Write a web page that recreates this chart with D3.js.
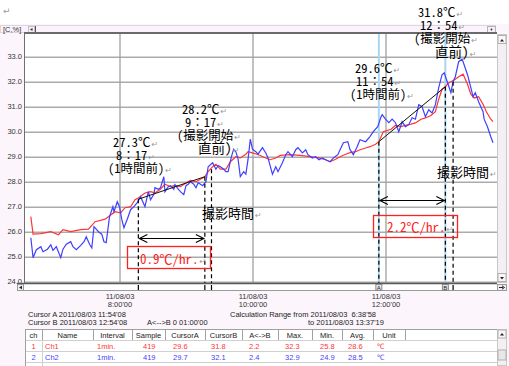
<!DOCTYPE html>
<html><head><meta charset="utf-8">
<script src="https://cdn.jsdelivr.net/npm/d3@7/dist/d3.min.js"></script>
<style>
html,body{margin:0;padding:0;background:#fff;}
svg{display:block;}
</style></head><body>
<svg id="chart" width="509" height="366"></svg>
<script>
// ---------------- data ----------------
const ch1Minutes = [400,402,409,418,425,429,436,445,452,458,467,476,481,485,490,494,497,503,508,512,517,521,526,530,535,540,544,549,553,557,560,564,567,571,576,580,585,589,594,596,600,604,607,612,616,621,625,634,643,652,660,666,670,675,679,684,688,693,697,702,706,711,714,718,725,729,734,738,743,747,752,756,761,765,768,771,774,777,781,783,786,790,794,797,800,804,808,811,815,817];
const ch1Values = [26.6,25.9,25.92,26.0,25.88,26.08,26.0,26.08,26.1,26.4,26.5,26.8,26.75,26.96,27.0,27.28,27.35,27.55,27.6,27.55,27.7,27.9,27.8,27.85,27.8,27.95,28.05,28.0,28.1,28.2,28.4,28.6,28.7,28.5,28.5,28.8,29.0,28.95,29.1,29.2,29.15,29.1,29.05,28.95,28.88,28.95,29.05,29.08,29.05,29.0,28.95,28.88,28.8,28.9,29.0,29.1,29.16,29.2,29.28,29.35,29.4,29.5,29.6,30.0,30.1,30.25,30.2,30.25,30.3,30.35,30.5,30.55,30.65,30.8,31.3,31.7,31.8,31.95,32.05,32.1,32.2,32.3,31.9,31.5,31.35,31.4,31.1,30.8,30.5,30.4];
const ch2Minutes = [400,402,405,409,411,415,418,420,423,427,429,432,436,438,441,445,448,450,453,455,457,459,461,464,466,468,471,474,475,478,480,482,484,487,490,493,496,499,502,503,506,508,511,512,515,517,520,521,524,526,529,530,533,535,538,540,542,544,547,549,551,555,558,560,564,567,569,571,574,576,578,581,583,585,587,589,592,594,596,598,600,603,605,609,612,614,618,621,623,627,630,632,636,639,641,645,648,650,654,657,660,663,666,670,673,677,679,682,686,688,691,694,697,702,706,709,713,716,717,720,723,726,729,732,735,738,741,744,747,750,753,756,759,762,765,768,771,773,776,779,781,783,786,789,790,794,797,799,801,804,808,809,812,815,817];
const ch2Values = [25.76,24.96,25.28,25.4,25.2,25.3,25.48,25.25,25.4,24.96,25.3,25.5,25.6,25.4,25.28,25.45,25.6,25.8,25.5,25.35,26.2,26.1,26.0,25.9,25.6,25.56,26.6,27.0,26.8,27.2,27.0,26.5,26.16,26.5,26.88,27.0,27.16,27.4,27.1,27.0,27.6,27.28,27.5,27.76,27.7,27.76,28.2,27.6,27.8,27.84,27.7,27.88,27.7,27.6,27.48,27.84,27.9,28.0,27.9,27.76,27.96,27.84,28.0,28.6,28.76,28.5,28.65,28.6,28.5,28.4,28.4,29.0,29.3,29.2,28.9,28.2,28.4,28.3,28.9,29.7,29.3,29.2,29.1,29.36,29.15,28.95,28.3,28.6,28.4,28.76,29.08,29.2,29.0,29.28,29.36,29.15,29.28,29.08,28.95,29.0,28.88,28.95,28.88,28.8,28.95,29.08,29.28,29.56,29.6,29.28,29.08,29.36,29.68,29.6,29.8,30.0,30.2,30.6,30.68,30.5,30.36,30.5,30.36,30.0,30.4,30.2,30.28,30.56,30.5,31.08,31.0,30.6,30.88,30.75,31.08,31.76,32.28,32.36,31.96,31.56,32.0,32.2,32.8,32.9,32.8,32.28,31.76,31.4,31.56,31.2,30.8,30.5,30.2,29.8,29.56];
const yTicks = [24,25,26,27,28,29,30,31,32,33];
const xTickMinutes = [480,600,720];
const xTickDates = ["11/08/03","11/08/03","11/08/03"];
const xTickTimes = ["8:00'00","10:00'00","12:00'00"];
// annotation points: [minute, value]
const trendLeft = [[497,27.3],[557,28.2]];
const trendRight = [[714,29.6],[774,31.8]];
const cursorMinutes = [714,774];
const cursorNames = ["A","B"];
const extraDashLeft = [563,28.5];
const extraDashRight = [781,32.0];
const tableHeaders = ["ch","Name","Interval","Sample","CursorA","CursorB","A<->B","Max.","Min.","Avg.","Unit"];
const tableRow1 = ["1","Ch1","1min.","419","29.6","31.8","2.2","32.3","25.8","28.6","\u2103"];
const tableRow2 = ["2","Ch2","1min.","419","29.7","32.1","2.4","32.9","24.9","28.5","\u2103"];

// ---------------- layout ----------------
const W=509,H=366;
const plot={left:25,right:497,top:34,bottom:283};
const svg=d3.select("#chart");
const toDate=m=>new Date(2011,7,3,Math.floor(m/60),m%60,0);
const x=d3.scaleTime().domain([toDate(480),toDate(720)]).range([119.5,385.5]);
const y=d3.scaleLinear().domain([24,33]).range([281.7,56.7]);
const smallFont='"Liberation Sans",Arial,sans-serif';
const annFont='"Noto Sans Mono CJK JP","Noto Sans CJK JP",sans-serif';
const RED="#ff3535", BLUE="#3f3fff";

svg.append("rect").attr("width",W).attr("height",H).attr("fill","#fff");
svg.append("rect").attr("x",0).attr("y",24).attr("width",W).attr("height",H-24).attr("fill","#fcf6fc");
// top bar
svg.append("rect").attr("x",0.5).attr("y",25.5).attr("width",495).attr("height",7).attr("fill","#fbf3fb").attr("stroke","#e2d2e2");
svg.append("text").attr("x",3).attr("y",32).attr("font-family",smallFont).attr("font-size",7.5).attr("fill","#333").text("[C,%]");
svg.append("rect").attr("x",28.5).attr("y",26.5).attr("width",6).attr("height",6).attr("fill","#f4f0f4").attr("stroke","#c8c0c8");
svg.append("path").attr("d","M30,29.5 L32.5,28 L32.5,31 Z").attr("fill","#333");
svg.append("line").attr("x1",35.5).attr("x2",35.5).attr("y1",26).attr("y2",33).attr("stroke","#555");
svg.append("rect").attr("x",487.5).attr("y",26.5).attr("width",8).attr("height",6).attr("fill","#f4f0f4").attr("stroke","#b8b0b8");
svg.append("circle").attr("cx",491.5).attr("cy",29.5).attr("r",0.9).attr("fill","#333");

// plot background
svg.append("rect").attr("x",plot.left).attr("y",plot.top).attr("width",plot.right-plot.left).attr("height",plot.bottom-plot.top).attr("fill","#fff");
svg.append("defs").append("clipPath").attr("id","clip").append("rect")
  .attr("x",plot.left).attr("y",plot.top).attr("width",plot.right-plot.left).attr("height",plot.bottom-plot.top);

// y axis + horizontal grid
const yAxis=d3.axisLeft(y).tickValues(yTicks).tickFormat(d3.format(".1f"))
  .tickSizeInner(-(plot.right-plot.left)).tickSizeOuter(0).tickPadding(3);
const gy=svg.append("g").attr("transform",`translate(${plot.left},0)`).call(yAxis);
gy.select(".domain").remove();
gy.selectAll("line").attr("stroke","#ababab").attr("stroke-width",1.5);
gy.selectAll("text").attr("font-family",smallFont).attr("font-size",7.5).attr("fill","#333").attr("dy","0.25em");

// x axis + vertical grid
const xAxis=d3.axisBottom(x).tickValues(xTickMinutes.map(toDate))
  .tickSizeInner(-(plot.bottom-plot.top)).tickSizeOuter(0).tickFormat((d,i)=>xTickDates[i]);
const gx=svg.append("g").attr("transform",`translate(0,${plot.bottom})`).call(xAxis);
gx.select(".domain").remove();
gx.selectAll("line").attr("stroke","#a0a0a0").attr("stroke-width",1.3);
gx.selectAll("text").attr("font-family",smallFont).attr("font-size",7.5).attr("fill","#333")
  .attr("y",16).attr("dy",0)
  .each(function(d,i){ d3.select(this).append("tspan").attr("x",0).attr("dy",8).text(xTickTimes[i]); });

// plot border
svg.append("line").attr("x1",plot.left-0.5).attr("x2",plot.left-0.5).attr("y1",plot.top).attr("y2",plot.bottom).attr("stroke","#707070");
svg.append("line").attr("x1",plot.left-1).attr("x2",plot.right).attr("y1",33).attr("y2",33).attr("stroke","#6a6a6a").attr("stroke-width",2);

// cursor lines (light blue)
svg.append("g").selectAll("line").data(cursorMinutes).join("line")
  .attr("x1",d=>x(toDate(d))).attr("x2",d=>x(toDate(d)))
  .attr("y1",plot.top).attr("y2",290).attr("stroke","#aad6f2").attr("stroke-width",2);

// data lines
const line=d3.line().x(d=>x(toDate(d[0]))).y(d=>y(d[1]));
const gData=svg.append("g").attr("clip-path","url(#clip)");
gData.append("path").datum(d3.zip(ch1Minutes,ch1Values)).attr("d",line)
  .attr("fill","none").attr("stroke",RED).attr("stroke-width",1.2);
gData.append("path").datum(d3.zip(ch2Minutes,ch2Values)).attr("d",line)
  .attr("fill","none").attr("stroke",BLUE).attr("stroke-width",1.2);

// trend lines
[trendLeft,trendRight].forEach(t=>{
  svg.append("path").datum(t).attr("d",line).attr("fill","none").attr("stroke","#111").attr("stroke-width",1);
});
// dashed verticals
const dashPts=[trendLeft[0],trendLeft[1],extraDashLeft,trendRight[0],trendRight[1],extraDashRight];
svg.append("g").selectAll("line").data(dashPts).join("line")
  .attr("x1",d=>x(toDate(d[0]))).attr("x2",d=>x(toDate(d[0])))
  .attr("y1",d=>y(d[1])).attr("y2",290)
  .attr("stroke","#000").attr("stroke-width",1.2).attr("stroke-dasharray","4,3");

// double arrows
function dArrow(m1,m2,v){
  const x1=x(toDate(m1))+1,x2=x(toDate(m2))-1,yy=Math.round(y(v))+0.5;
  const g=svg.append("g").attr("stroke","#000").attr("fill","none").attr("stroke-width",1.1);
  g.append("line").attr("x1",x1).attr("x2",x2).attr("y1",yy).attr("y2",yy);
  g.append("path").attr("d",`M${x1+8},${yy-4} L${x1},${yy} L${x1+8},${yy+4}`);
  g.append("path").attr("d",`M${x2-8},${yy-4} L${x2},${yy} L${x2-8},${yy+4}`);
}
dArrow(trendLeft[0][0],trendLeft[1][0],25.75);
dArrow(trendRight[0][0],trendRight[1][0],27.27);

// red boxes
svg.append("rect").attr("x",127.5).attr("y",246.5).attr("width",83).attr("height",22).attr("fill","none").attr("stroke","#ff2020").attr("stroke-width",1.3);
svg.append("rect").attr("x",373.5).attr("y",215.5).attr("width",84).attr("height",22).attr("fill","none").attr("stroke","#ff2020").attr("stroke-width",1.3);

// text annotations: one <text> per block, one line per tspan group
function note(lines,color){
  const t=svg.append("text").attr("font-family",annFont).attr("font-size",12.5).attr("fill",color||"#000");
  lines.forEach(l=>{
    t.append("tspan").attr("x",l[1]).attr("y",l[2]).attr("font-size",l[3]||12.5).text(l[0]);
    t.append("tspan").attr("font-family","DejaVu Sans").attr("font-size",8).attr("fill","#9a9a9a").attr("dx",1).text("\u21B5");
  });
}
note([["27.3\u2103",113,147],["8\uFF1A17",116,160],["(1\u6642\u9593\u524D)",108,173]]);
note([["28.2\u2103",182,114],["9\uFF1A17",185,127],["(\u64AE\u5F71\u958B\u59CB",177,140],["\u76F4\u524D)",198,153,13.5]]);
note([["31.8\u2103",418,17],["12\uFF1A54",420,30],["(\u64AE\u5F71\u958B\u59CB",414,43],["\u76F4\u524D)",435,57,13.5]]);
note([["29.6\u2103",355,73],["11\uFF1A54",356,86],["(1\u6642\u9593\u524D)",350,99]]);
note([["\u64AE\u5F71\u6642\u9593",202,218,13]]);
note([["\u64AE\u5F71\u6642\u9593",437,177,13]]);
note([["0.9\u2103/hr.",140,264,13]],"#ff2020");
note([["2.2\u2103/hr.",387,232,13]],"#ff2020");
svg.append("text").attr("x",3).attr("y",14).attr("font-family","DejaVu Sans").attr("font-size",9).attr("fill","#9a9a9a").text("\u21B5");

// right scrollbar (plot)
svg.append("rect").attr("x",497.5).attr("y",34.5).attr("width",9).attr("height",248).attr("fill","#f2f0f2").attr("stroke","#c8c8c8");
[[35.5,"M500,41.5 L502,39 L504,41.5 Z"],[273.5,"M500,277 L502,279.5 L504,277 Z"]].forEach(b=>{
  svg.append("rect").attr("x",498).attr("y",b[0]).attr("width",8).attr("height",8).attr("fill","#f7f7f7").attr("stroke","#b0b0b0");
  svg.append("path").attr("d",b[1]).attr("fill","#222");
});
// bottom scrollbar
svg.append("rect").attr("x",17).attr("y",283).attr("width",480).attr("height",7).attr("fill","#fff");
svg.append("line").attr("x1",17).attr("x2",497).attr("y1",283.5).attr("y2",283.5).attr("stroke","#5a5a5a").attr("stroke-width",1.5);
svg.append("line").attr("x1",17).attr("x2",497).attr("y1",290.5).attr("y2",290.5).attr("stroke","#9a9a9a");
svg.append("rect").attr("x",17.5).attr("y",284.5).attr("width",6).attr("height",6).attr("fill","#eee").attr("stroke","#999");
svg.append("path").attr("d","M19,287.5 L22,285.8 L22,289.2 Z").attr("fill","#222");
svg.append("rect").attr("x",497.5).attr("y",284.5).attr("width",9).attr("height",6).attr("fill","#eee").attr("stroke","#999");
svg.append("path").attr("d","M499,287.5 L503,287.5 M502,285.8 L504.5,287.5 L502,289.2").attr("stroke","#222").attr("fill","none");
svg.append("g").selectAll("line").data(dashPts).join("line")
  .attr("x1",d=>x(toDate(d[0]))).attr("x2",d=>x(toDate(d[0])))
  .attr("y1",285).attr("y2",290).attr("stroke","#000").attr("stroke-width",1.2);
cursorMinutes.forEach((m,i)=>{
  const cx=x(toDate(m));
  svg.append("rect").attr("x",cx-3).attr("y",284.5).attr("width",6).attr("height",6).attr("fill","#e8e8e8").attr("stroke","#888");
  svg.append("text").attr("x",cx).attr("y",290).attr("text-anchor","middle").attr("font-family",smallFont).attr("font-size",6).attr("fill","#222").text(cursorNames[i]);
});

// cursor info text
const info=[["Cursor A 2011/08/03 11:54'08",28,317],["Cursor B 2011/08/03 12:54'08",28,325],["A<-->B 0 01:00'00",147,325],
  ["Calculation Range from 2011/08/03  6:38'58",230,317],["to 2011/08/03 13:37'19",308,325]];
info.forEach(d=>svg.append("text").attr("x",d[1]).attr("y",d[2]).attr("font-family",smallFont).attr("font-size",7.5)
  .attr("fill","#222").attr("xml:space","preserve").text(d[0]));

// table
const colX=[25,42,93,132,165,205,242,278,312,342,373,405,497];
const cellX=[33.5,45,97,143,173,211,249,285,320,348,377];
const rowLines=[329,340,351,362];
svg.append("rect").attr("x",25).attr("y",329).attr("width",472).attr("height",37).attr("fill","#fff");
svg.append("g").selectAll("line").data(rowLines).join("line").attr("x1",25).attr("x2",497)
  .attr("y1",d=>d+0.5).attr("y2",d=>d+0.5).attr("stroke",(d,i)=>i===0?"#a0a0a0":"#d0d0d0");
svg.append("g").selectAll("line").data(colX.slice(0,11)).join("line").attr("x1",d=>d+0.5).attr("x2",d=>d+0.5)
  .attr("y1",329).attr("y2",(d,i)=>i===0?366:340).attr("stroke","#a0a0a0");
svg.append("line").attr("x1",405.5).attr("x2",405.5).attr("y1",329).attr("y2",340).attr("stroke","#a0a0a0");
svg.append("line").attr("x1",42.5).attr("x2",42.5).attr("y1",340).attr("y2",366).attr("stroke","#d0d0d0");
svg.append("g").selectAll("text").data(tableHeaders).join("text")
  .attr("x",(d,i)=>(colX[i]+colX[i+1])/2).attr("y",337.5).attr("text-anchor","middle")
  .attr("font-family",smallFont).attr("font-size",7.5).attr("fill","#222").text(d=>d);
[[tableRow1,RED,348.5],[tableRow2,BLUE,360]].forEach(r=>{
  svg.append("g").selectAll("text").data(r[0]).join("text")
    .attr("x",(d,i)=>cellX[i]).attr("y",r[2]).attr("text-anchor",(d,i)=>i===0?"middle":"start")
    .attr("font-family",smallFont).attr("font-size",7.5).attr("fill",r[1]).text(d=>d);
});
// table scrollbar
svg.append("rect").attr("x",497.5).attr("y",329.5).attr("width",9).attr("height",36).attr("fill","#f2f0f2").attr("stroke","#c8c8c8");
svg.append("rect").attr("x",498).attr("y",330).attr("width",8).attr("height",8).attr("fill","#f7f7f7").attr("stroke","#b0b0b0");
svg.append("path").attr("d","M500,335.5 L502,333 L504,335.5 Z").attr("fill","#222");
svg.append("rect").attr("x",498).attr("y",350).attr("width",8).attr("height",10).attr("fill","#e8e8e8").attr("stroke","#b0b0b0");
</script>
</body></html>
